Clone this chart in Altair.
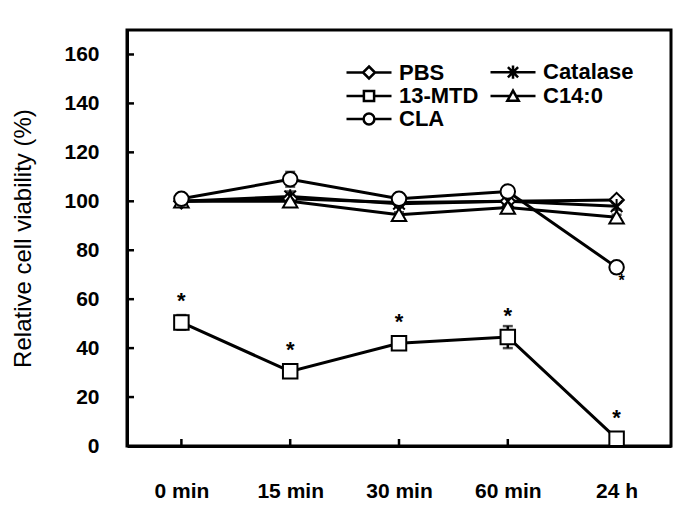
import altair as alt
import pandas as pd

times = ["0 min", "15 min", "30 min", "60 min", "24 h"]
series = ["PBS", "Catalase", "13-MTD", "C14:0", "CLA"]
legend_order = ["PBS", "13-MTD", "CLA", "Catalase", "C14:0"]
y_tick_values = [0, 20, 40, 60, 80, 100, 120, 140, 160]

pbs = [100, 101, 99.5, 100, 100.5]
catalase = [100, 102, 99, 100, 98]
mtd = [50.5, 30.5, 42, 44.5, 3]
c140 = [100, 100, 94.5, 97.5, 93.5]
cla = [101, 109, 101, 104, 73]

pbs_err = [1.5, 1.5, 1, 1.5, 1]
catalase_err = [1.5, 2, 1, 1, 1.5]
mtd_err = [3, 1.5, 1.5, 4.5, 0.5]
c140_err = [1.5, 1.5, 1, 1, 1]
cla_err = [1.5, 3, 1, 1.5, 1.5]

values = {"PBS": pbs, "Catalase": catalase, "13-MTD": mtd, "C14:0": c140, "CLA": cla}
errors = {"PBS": pbs_err, "Catalase": catalase_err, "13-MTD": mtd_err, "C14:0": c140_err, "CLA": cla_err}

# significance marks
star_times = ["0 min", "15 min", "30 min", "60 min", "24 h"]
cla_star_time = ["24 h"]

rows = []
for s in series:
    for t, v, e in zip(times, values[s], errors[s]):
        rows.append({"series": s, "time": t, "value": v, "lo": v - e, "hi": v + e})
df = pd.DataFrame(rows)

star_df = pd.DataFrame({"time": star_times,
                        "value": [mtd[times.index(t)] for t in star_times]})
cla_star_df = pd.DataFrame({"time": cla_star_time,
                            "value": [cla[times.index(t)] for t in cla_star_time]})
ytick_df = pd.DataFrame({"value": y_tick_values[1:]})
xtick_df = pd.DataFrame({"time": times})

plot_shapes = {
    "PBS": "diamond",
    "Catalase": "M0,-1L0,1M-0.8,-0.8L0.8,0.8M-0.8,0.8L0.8,-0.8",
    "13-MTD": "square",
    "C14:0": "triangle-up",
    "CLA": "circle",
}
legend_shapes = {
    "PBS": "M-3.75,0L-1,0M1,0L3.75,0M0,-1L1,0L0,1L-1,0Z",
    "Catalase": "M-3.75,0L3.75,0M0,-1.1L0,1.1M-0.85,-0.85L0.85,0.85M-0.85,0.85L0.85,-0.85",
    "13-MTD": "M-3.75,0L-0.85,0M0.85,0L3.75,0M-0.85,-0.85L0.85,-0.85L0.85,0.85L-0.85,0.85Z",
    "C14:0": "M-3.75,0L-0.45,0M0.45,0L3.75,0M-0.95,0.8L0,-0.9L0.95,0.8Z",
    "CLA": "M-3.75,0L-0.9,0M0.9,0L3.75,0M-0.9,0A0.9,0.9 0 1,0 0.9,0A0.9,0.9 0 1,0 -0.9,0Z",
}

FONT = "Liberation Sans"

yscale = alt.Scale(domain=[0, 170], nice=False, zero=True)
xscale = alt.Scale(type="point", padding=0.5, domain=times)

xaxis = alt.Axis(title=None, ticks=False, labelFontSize=21, labelFontWeight="bold",
                 labelFont=FONT, labelColor="black", labelPadding=34, labelAngle=0,
                 domainColor="black", domainWidth=3, grid=False)
yaxis = alt.Axis(title="Relative cell viability (%)", values=y_tick_values,
                 ticks=False, labelFontSize=21, labelFontWeight="bold", labelFont=FONT,
                 labelColor="black", labelPadding=28, titleFontSize=24,
                 titleFontWeight="normal", titleFont=FONT, titleColor="black",
                 titlePadding=28, domainColor="black", domainWidth=3, grid=False)

X = alt.X("time:N", sort=times, scale=xscale, axis=xaxis, title=None)


def yq(field="value"):
    return alt.Y(f"{field}:Q", scale=yscale, axis=yaxis, title="Relative cell viability (%)")


base = alt.Chart(df)

err_rule = base.mark_rule(color="black", strokeWidth=2.5).encode(
    x=X, y=yq("lo"), y2="hi:Q")
err_cap_hi = base.mark_tick(color="black", thickness=2.5, size=10).encode(x=X, y=yq("hi"))
err_cap_lo = base.mark_tick(color="black", thickness=2.5, size=10).encode(x=X, y=yq("lo"))

lines = base.mark_line(color="black", strokeWidth=3).encode(
    x=X, y=yq(), detail="series:N")

points = base.mark_point(fill="white", stroke="black", strokeWidth=2, opacity=1, size=210).encode(
    x=X, y=yq(),
    shape=alt.Shape("series:N",
                    scale=alt.Scale(domain=series, range=[plot_shapes[s] for s in series]),
                    legend=None))

legend_pts = base.mark_point(opacity=0, stroke="black", strokeWidth=2.5).encode(
    x=X, y=yq(),
    shape=alt.Shape("series:N",
                    scale=alt.Scale(domain=legend_order,
                                    range=[legend_shapes[s] for s in legend_order]),
                    legend=alt.Legend(title=None, orient="none", legendX=231, legendY=31,
                                      columns=2, symbolSize=144, symbolStrokeWidth=2.5,
                                      symbolStrokeColor="black", symbolOpacity=1,
                                      labelFontSize=22, labelFontWeight="bold", labelFont=FONT,
                                      labelColor="black", labelOffset=19, columnPadding=6,
                                      rowPadding=1)))

stars = alt.Chart(star_df).mark_text(text="*", fontSize=22, fontWeight="bold", font=FONT,
                                     color="black", dy=-21).encode(x=X, y=yq())
cla_stars = alt.Chart(cla_star_df).mark_text(text="*", fontSize=16, fontWeight="bold", font=FONT,
                                             color="black", dx=5, dy=14).encode(x=X, y=yq())

# inward-pointing axis ticks
yticks = alt.Chart(ytick_df).mark_rule(color="black", strokeWidth=2.5).encode(
    y=yq(), x=alt.value(0), x2=alt.value(7))
xticks = alt.Chart(xtick_df).mark_rule(color="black", strokeWidth=2.5).encode(
    x=X, y=alt.value(416), y2=alt.value(409))

chart = alt.layer(lines, err_rule, err_cap_hi, err_cap_lo, yticks, xticks, points, legend_pts,
                  stars, cla_stars).resolve_scale(shape="independent").properties(
    width=544, height=416,
    autosize=alt.AutoSizeParams(type="none"),
    padding={"left": 119, "top": 22, "right": 6, "bottom": 66},
).configure(background="white",
            view=alt.ViewConfig(stroke="black", strokeWidth=3))

chart.save("out.html", embed_options={"renderer": "svg", "actions": False})
